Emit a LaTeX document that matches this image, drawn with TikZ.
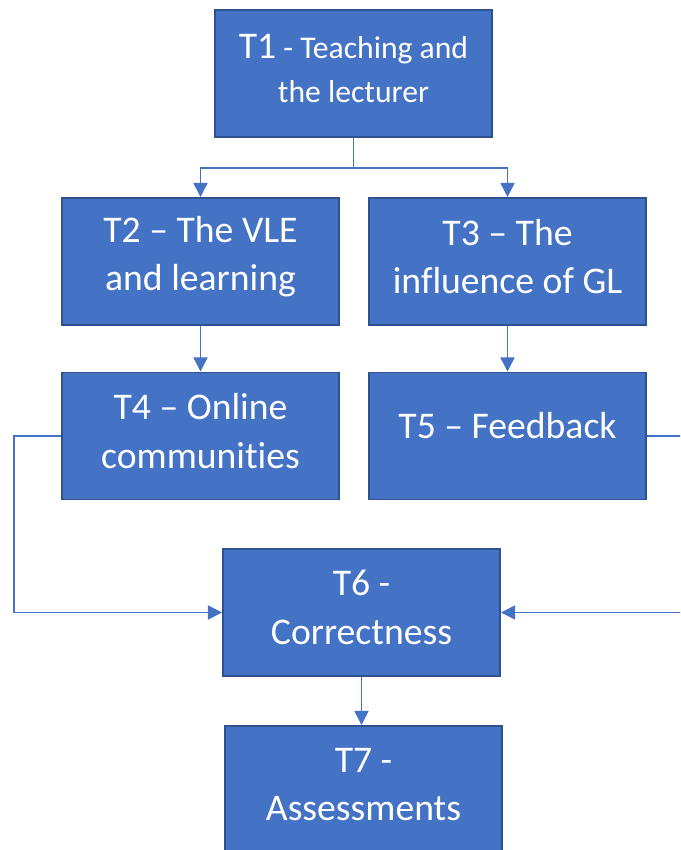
\documentclass[tikz,border=0pt]{standalone}
\usepackage{fontspec}
\setmainfont[RawFeature=-liga]{Carlito}
\usepackage{tikz}
\usetikzlibrary{arrows.meta,positioning,calc}
\definecolor{boxblue}{HTML}{4472C4}
\definecolor{boxedge}{HTML}{2F528F}

\begin{document}
\begin{tikzpicture}[
  theme/.style={rectangle,draw=boxedge,fill=boxblue,line width=1.4pt,
                text=white,text width=6.925cm,minimum height=3.175cm,
                inner sep=0pt,align=flush center,
                font=\fontsize{26.8}{34.5}\selectfont,
                execute at end node={\endgraf\vspace*{0.25cm}}},
  link/.style={boxblue,line width=1pt,-{Triangle[length=10pt,width=10pt]}}
]
  % Frame of the picture (also clips the outer loop on the right)
  \clip (0,0) rectangle (17,21.25);

  % Themes
  \node[theme,font=\fontsize{22.5}{31}\selectfont] (t1) at (8.8375,19.4125)
    {{\fontsize{26.8}{31}\selectfont T1} - Teaching and\\the lecturer};
  \node[theme] (t2) at (5.0125,14.7125)  {T2 – The VLE\\and learning};
  \node[theme] (t3) at (12.6875,14.7125) {T3 – The\\influence of GL};
  \node[theme] (t4) at (5.0125,10.35)    {T4 – Online\\communities};
  \node[theme] (t5) at (12.6875,10.35)   {\raisebox{8pt}{T5 – Feedback}};
  \node[theme] (t6) at (9.0375,5.9375)   {T6 -\\Correctness};
  \node[theme] (t7) at (9.0875,1.5125)   {T7 -\\Assessments};

  % Connectors
  \draw[link] (t1.south) -- ++(0,-0.75) -| (t2.north);
  \draw[link] (t1.south) -- ++(0,-0.75) -| (t3.north);
  \draw[link] (t2.south) -- (t4.north);
  \draw[link] (t3.south) -- (t5.north);
  \draw[link] (t4.west) -- ++(-1.175,0) |- (t6.west);
  \draw[link] (t5.east) -- ++(1.2,0) |- (t6.east);
  \draw[link] (t6.south) -- (t6.south |- t7.north);
\end{tikzpicture}
\end{document}
